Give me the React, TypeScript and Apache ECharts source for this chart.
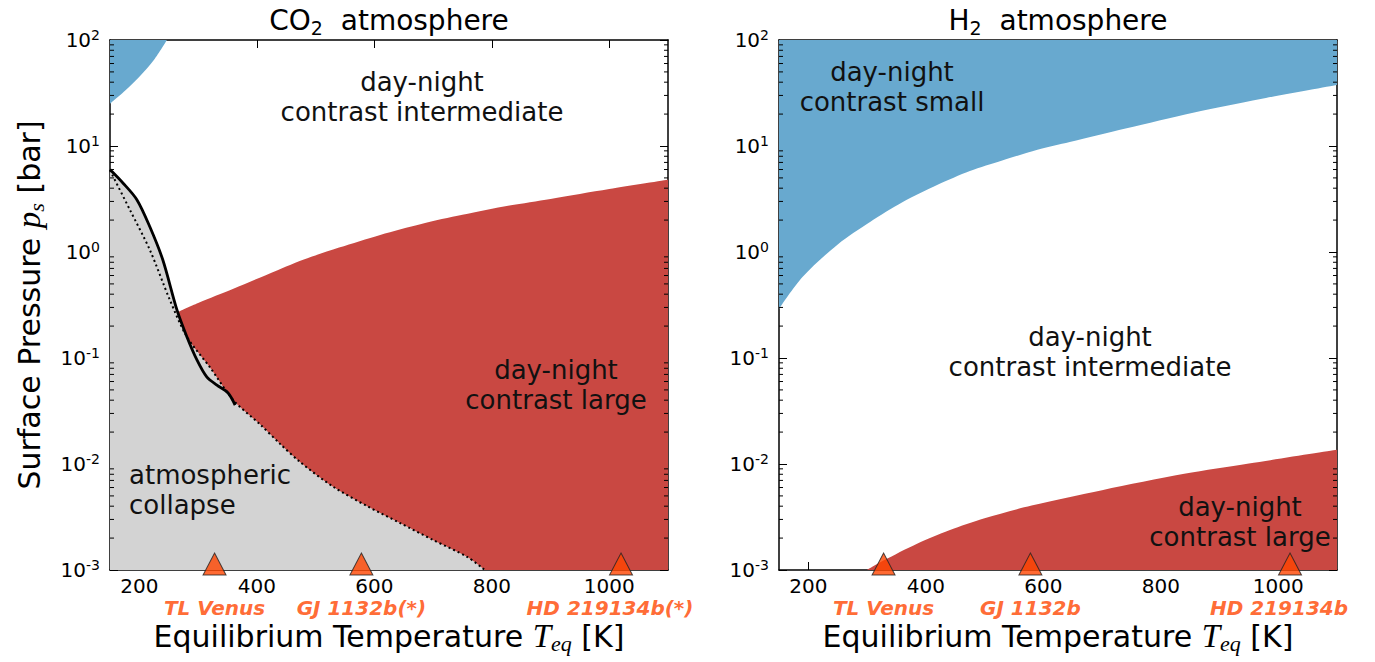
import React, { useEffect, useRef } from 'react';
import * as echarts from 'echarts';

// Axis ranges and ticks
const T_MIN = 150;
const T_MAX = 1100;
const P_MIN = 1e-3;
const P_MAX = 1e2;
const xTicks = [200, 400, 600, 800, 1000];
const decadeExponents = [-3, -2, -1, 0, 1];
const minorFactors = [2, 3, 4, 5, 6, 7, 8, 9];

// CO2 atmosphere: regime boundaries (T in K, p in bar)
const co2BlueT = [150, 175, 200, 225, 247];
const co2BlueP = [25, 33, 45, 65, 100];
const co2RedT = [265, 300, 360, 420, 480, 540, 610, 680, 750, 830, 900, 1000, 1100];
const co2RedP = [0.27, 0.33, 0.45, 0.62, 0.85, 1.1, 1.45, 1.84, 2.24, 2.74, 3.17, 3.93, 4.8];
const co2CollapseT = [150, 172, 196, 218, 240, 265, 281, 320, 360, 405, 440, 474, 530, 588, 644, 700, 758, 788];
const co2CollapseP = [6.0, 4.48, 3.1, 1.72, 0.84, 0.27, 0.158, 0.082, 0.04, 0.0238, 0.0154, 0.0104, 0.0061, 0.004, 0.00277, 0.00192, 0.00133, 0.001];
const co2DottedT = [150, 184, 218, 252, 281, 320, 360, 405, 440, 474, 530, 588, 644, 700, 758, 788];
const co2DottedP = [5.9, 2.49, 1.04, 0.352, 0.158, 0.082, 0.04, 0.0238, 0.0154, 0.0104, 0.0061, 0.004, 0.00277, 0.00192, 0.00133, 0.001];
const co2SolidT = [150, 172, 196, 218, 240, 264, 281, 298, 315, 332, 351, 363];
const co2SolidP = [6.0, 4.48, 3.1, 1.72, 0.84, 0.284, 0.158, 0.096, 0.066, 0.0556, 0.0468, 0.036];

// H2 atmosphere: regime boundaries
const h2BlueT = [150, 190, 250, 305, 360, 420, 475, 530, 590, 645, 740, 855, 970, 1100];
const h2BlueP = [0.29, 0.58, 1.18, 1.92, 2.95, 4.3, 5.8, 7.3, 9.2, 10.9, 14.6, 20.6, 27.8, 37.6];
const h2RedT = [300, 327, 385, 440, 500, 580, 700, 840, 950, 1100];
const h2RedP = [0.001, 0.00122, 0.00177, 0.00237, 0.00308, 0.00406, 0.00566, 0.00807, 0.0101, 0.0136];

// Planets (equilibrium temperatures)
const planetT = [328, 578, 1020];
const co2PlanetNames = ['TL Venus', 'GJ 1132b(*)', 'HD 219134b(*)'];
const h2PlanetNames = ['TL Venus', 'GJ 1132b', 'HD 219134b'];

const FONT = "'DejaVu Sans', sans-serif";
const MATH = "'Liberation Serif', serif";
const RED = '#c94842';
const BLUE = '#68a9cf';
const GRAY = '#d3d3d3';
const ORANGE = '#ff4500';
const INK = '#000';
const SMOOTH = 0.3;

const pairs = (xs: number[], ys: number[]) => xs.map((x, i) => [x, ys[i]]);

const minorTickValues: number[] = [];
decadeExponents.forEach((e) => minorFactors.forEach((k) => minorTickValues.push(k * Math.pow(10, e))));

const powerLabel = (v: number) => `{b|10}{s|${Math.round(Math.log10(v))}}`;

const tickRich = {
  b: { fontSize: 20, fontFamily: FONT, color: INK, lineHeight: 24 },
  s: { fontSize: 14, fontFamily: FONT, color: INK, lineHeight: 12, verticalAlign: 'top' },
};

const nameRich = {
  n: { fontSize: 30, fontFamily: FONT, color: INK, lineHeight: 36 },
  i: { fontSize: 33, fontFamily: MATH, fontStyle: 'italic', color: INK, lineHeight: 36 },
  q: { fontSize: 22, fontFamily: MATH, fontStyle: 'italic', color: INK, lineHeight: 20, verticalAlign: 'bottom' },
};

const axisLineStyle = { color: INK, width: 1.5 };

function xAxes(gridIndex: number, withName: boolean) {
  return [
    {
      gridIndex,
      type: 'value',
      min: T_MIN,
      max: T_MAX,
      position: 'bottom',
      axisLine: { show: true, onZero: false, lineStyle: axisLineStyle },
      axisTick: { show: true, inside: true, length: 8, customValues: xTicks, lineStyle: { color: INK, width: 1 } },
      axisLabel: {
        show: true,
        customValues: xTicks,
        formatter: (v: number) => String(v),
        fontSize: 20,
        lineHeight: 18,
        fontFamily: FONT,
        color: INK,
        margin: 7,
      },
      splitLine: { show: false },
      name: withName ? '{n|Equilibrium Temperature }{i|T}{q|eq}{n| [K]}' : '',
      nameLocation: 'middle',
      nameGap: 48,
      nameTextStyle: { rich: nameRich },
    },
    {
      gridIndex,
      type: 'value',
      min: T_MIN,
      max: T_MAX,
      position: 'top',
      axisLine: { show: true, onZero: false, lineStyle: axisLineStyle },
      axisTick: { show: true, inside: true, length: 8, customValues: xTicks, lineStyle: { color: INK, width: 1 } },
      axisLabel: { show: false },
      splitLine: { show: false },
    },
  ];
}

function yAxes(gridIndex: number, withName: boolean) {
  return [
    {
      gridIndex,
      type: 'log',
      logBase: 10,
      min: P_MIN,
      max: P_MAX,
      position: 'left',
      axisLine: { show: true, onZero: false, lineStyle: axisLineStyle },
      axisTick: { show: true, inside: true, length: 8, lineStyle: { color: INK, width: 1 } },
      axisLabel: { show: true, margin: 10, formatter: powerLabel, rich: tickRich },
      splitLine: { show: false },
      minorTick: { show: false },
      name: withName ? '{n|Surface Pressure }{i|p}{q|s}{n| [bar]}' : '',
      nameLocation: 'middle',
      nameRotate: 90,
      nameGap: 63,
      nameTextStyle: { rich: nameRich },
    },
    {
      gridIndex,
      type: 'log',
      logBase: 10,
      min: P_MIN,
      max: P_MAX,
      position: 'right',
      axisLine: { show: true, onZero: false, lineStyle: axisLineStyle },
      axisTick: { show: true, inside: true, length: 8, lineStyle: { color: INK, width: 1 } },
      axisLabel: { show: false },
      splitLine: { show: false },
    },
  ];
}

function areaSeries(axisIndex: number, data: number[][], color: string, origin: 'start' | 'end', z: number) {
  return {
    type: 'line',
    xAxisIndex: axisIndex,
    yAxisIndex: axisIndex,
    data,
    smooth: SMOOTH,
    showSymbol: false,
    symbol: 'none',
    lineStyle: { width: 0, color },
    itemStyle: { color },
    areaStyle: { color, opacity: 1, origin },
    silent: true,
    z,
  };
}

function minorTickSeries(axisIndex: number) {
  return {
    type: 'custom',
    xAxisIndex: axisIndex,
    yAxisIndex: axisIndex,
    data: minorTickValues.map((v) => [T_MIN, v]),
    silent: true,
    clip: false,
    z: 20,
    renderItem: (_params: any, api: any) => {
      const v = api.value(1);
      const l = api.coord([T_MIN, v]);
      const r = api.coord([T_MAX, v]);
      const style = { stroke: INK, lineWidth: 1 };
      return {
        type: 'group',
        children: [
          { type: 'line', shape: { x1: l[0], y1: l[1], x2: l[0] + 4, y2: l[1] }, style },
          { type: 'line', shape: { x1: r[0] - 4, y1: r[1], x2: r[0], y2: r[1] }, style },
        ],
      };
    },
  };
}

function planetSeries(axisIndex: number, names: string[]) {
  return [
    {
      type: 'scatter',
      xAxisIndex: axisIndex,
      yAxisIndex: axisIndex,
      data: planetT.map((t) => [t, P_MIN]),
      symbol: 'triangle',
      symbolSize: [23, 22],
      symbolOffset: [0, -6],
      itemStyle: { color: ORANGE, borderColor: '#222', borderWidth: 1 },
      clip: false,
      silent: true,
      z: 15,
    },
    {
      type: 'scatter',
      xAxisIndex: axisIndex,
      yAxisIndex: axisIndex,
      data: planetT.map((t, i) => ({
        value: [t, P_MIN],
        name: names[i],
        label: { offset: [i === planetT.length - 1 ? -11 : 0, 38] },
      })),
      symbol: 'circle',
      symbolSize: 1,
      itemStyle: { color: 'rgba(0,0,0,0)' },
      label: {
        show: true,
        position: 'inside',
        formatter: '{b}',
        fontSize: 20,
        lineHeight: 17,
        fontFamily: FONT,
        fontWeight: 'bold',
        fontStyle: 'italic',
        color: ORANGE,
      },
      clip: false,
      silent: true,
      z: 15,
    },
  ];
}

function note(x: number, y: number, text: string, align: 'center' | 'left' = 'center') {
  return {
    type: 'text',
    x,
    y,
    silent: true,
    z: 30,
    style: {
      text,
      fontSize: 26,
      fontFamily: FONT,
      fill: '#111',
      align,
      textAlign: align,
      verticalAlign: 'middle',
      textVerticalAlign: 'middle',
      lineHeight: 30,
    },
  };
}

function heading(x: number, y: number, text: string) {
  return {
    type: 'text',
    x,
    y,
    silent: true,
    style: {
      text,
      rich: {
        n: { fontSize: 28, fontFamily: FONT, fill: INK, lineHeight: 34 },
        q: { fontSize: 19, fontFamily: FONT, fill: INK, lineHeight: 18, verticalAlign: 'bottom' },
      },
      align: 'center',
      textAlign: 'center',
      verticalAlign: 'middle',
      textVerticalAlign: 'middle',
    },
  };
}

export default function App() {
  const ref = useRef<HTMLDivElement>(null);

  useEffect(() => {
    if (!ref.current) return;
    const chart = echarts.init(ref.current, undefined, { renderer: 'svg' });

    const option: any = {
      animation: false,
      backgroundColor: '#fff',
      grid: [
        { left: 110, top: 40, width: 558, height: 530 },
        { left: 779, top: 40, width: 558, height: 530 },
      ],
      xAxis: [...xAxes(0, true), ...xAxes(1, true)],
      yAxis: [...yAxes(0, true), ...yAxes(1, false)],
      series: [
        // CO2 panel (axes 0)
        areaSeries(0, pairs(co2RedT, co2RedP), RED, 'start', 2),
        areaSeries(0, pairs(co2CollapseT, co2CollapseP), GRAY, 'start', 3),
        areaSeries(0, pairs(co2BlueT, co2BlueP), BLUE, 'end', 3),
        {
          type: 'line',
          xAxisIndex: 0,
          yAxisIndex: 0,
          data: pairs(co2DottedT, co2DottedP),
          smooth: SMOOTH,
          symbol: 'none',
          lineStyle: { color: INK, width: 2, type: [2, 3] },
          silent: true,
          z: 5,
        },
        {
          type: 'line',
          xAxisIndex: 0,
          yAxisIndex: 0,
          data: pairs(co2SolidT, co2SolidP),
          smooth: SMOOTH,
          symbol: 'none',
          lineStyle: { color: INK, width: 2.8 },
          silent: true,
          z: 6,
        },
        minorTickSeries(0),
        ...planetSeries(0, co2PlanetNames),
        // H2 panel (axes 2)
        areaSeries(2, pairs(h2BlueT, h2BlueP), BLUE, 'end', 2),
        areaSeries(2, pairs(h2RedT, h2RedP), RED, 'start', 2),
        minorTickSeries(2),
        ...planetSeries(2, h2PlanetNames),
      ],
      graphic: [
        heading(389, 20, '{n|CO}{q|2}{n|  atmosphere}'),
        heading(1058, 20, '{n|H}{q|2}{n|  atmosphere}'),
        note(422, 97, 'day-night\ncontrast intermediate'),
        note(556, 385, 'day-night\ncontrast large'),
        note(129, 490, 'atmospheric\ncollapse', 'left'),
        note(892, 87, 'day-night\ncontrast small'),
        note(1090, 352, 'day-night\ncontrast intermediate'),
        note(1240, 522, 'day-night\ncontrast large'),
      ],
    };

    chart.setOption(option);
    return () => chart.dispose();
  }, []);

  return (
    <div
      ref={ref}
      style={{ position: 'fixed', left: 0, top: 0, width: 1375, height: 662, background: '#fff' }}
    />
  );
}
